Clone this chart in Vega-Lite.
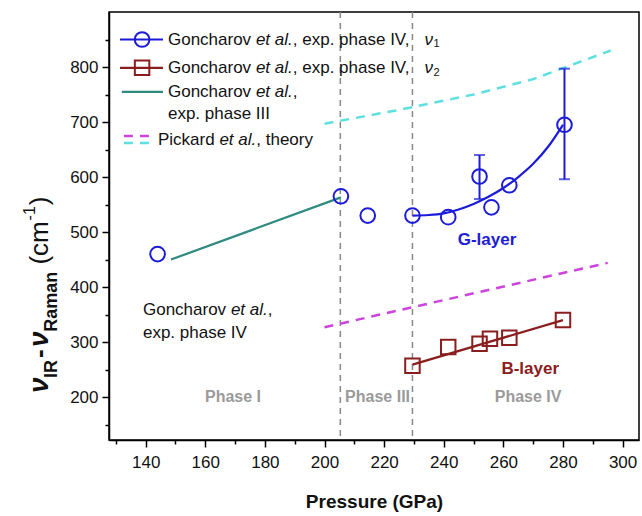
{
  "$schema": "https://vega.github.io/schema/vega-lite/v6.json",
  "width": 530,
  "height": 428,
  "autosize": "none",
  "padding": {"left": 109, "top": 12, "right": 3, "bottom": 76},
  "config": {
    "font": "Liberation Sans",
    "view": {"stroke": "#000", "strokeWidth": 1.5},
    "axis": {"grid": false, "domainColor": "#000", "domainWidth": 1.5, "tickColor": "#000", "tickWidth": 1.5, "labelColor": "#111", "labelFontSize": 17, "labelFont": "Liberation Sans", "titleFont": "Liberation Sans", "titleColor": "#111"}
  },
  "datasets": {
    "vlines": [{"x": 205.3}, {"x": 229.5}],
    "solid": [
      {"x": 229.5, "y": 530, "s": "fit"}, {"x": 235, "y": 531, "s": "fit"}, {"x": 240, "y": 534, "s": "fit"}, {"x": 245, "y": 541, "s": "fit"}, {"x": 250, "y": 551, "s": "fit"}, {"x": 255, "y": 564, "s": "fit"}, {"x": 260, "y": 580, "s": "fit"}, {"x": 265, "y": 600, "s": "fit"}, {"x": 270, "y": 624, "s": "fit"}, {"x": 275, "y": 655, "s": "fit"}, {"x": 280, "y": 695, "s": "fit"},
      {"x": 148.5, "y": 450, "s": "teal"}, {"x": 205.5, "y": 563, "s": "teal"},
      {"x": 229.5, "y": 259, "s": "brown"}, {"x": 280, "y": 340, "s": "brown"},
      {"x": 131.4, "y": 850, "s": "lb"}, {"x": 145.8, "y": 850, "s": "lb"},
      {"x": 131.4, "y": 798.5, "s": "lr"}, {"x": 145.8, "y": 798.5, "s": "lr"},
      {"x": 132.0, "y": 754.7, "s": "lt"}, {"x": 145.8, "y": 754.7, "s": "lt"}
    ],
    "dashed": [
      {"x": 200, "y": 327, "s": "mg"}, {"x": 295, "y": 444, "s": "mg"},
      {"x": 200, "y": 697, "s": "cy"}, {"x": 225, "y": 722, "s": "cy"}, {"x": 250, "y": 750, "s": "cy"}, {"x": 270, "y": 778, "s": "cy"}, {"x": 287, "y": 812, "s": "cy"}, {"x": 296, "y": 830, "s": "cy"},
      {"x": 132.7, "y": 674.5, "s": "lmg"}, {"x": 141.4, "y": 674.5, "s": "lmg"},
      {"x": 132.7, "y": 661.7, "s": "lcy"}, {"x": 141.4, "y": 661.7, "s": "lcy"}
    ],
    "err": [{"x": 252, "lo": 560, "hi": 640}, {"x": 280.5, "lo": 596, "hi": 797}],
    "caps": [{"x": 252, "y": 560}, {"x": 252, "y": 640}, {"x": 280.5, "y": 596}, {"x": 280.5, "y": 797}],
    "circles": [
      {"x": 144, "y": 460}, {"x": 205.5, "y": 565}, {"x": 214.5, "y": 530}, {"x": 229.5, "y": 530}, {"x": 241.5, "y": 527}, {"x": 252, "y": 601}, {"x": 256, "y": 545}, {"x": 262, "y": 585}, {"x": 280.5, "y": 695},
      {"x": 138.8, "y": 850}
    ],
    "squares": [
      {"x": 229.5, "y": 257}, {"x": 241.5, "y": 291}, {"x": 252, "y": 297}, {"x": 255.5, "y": 306}, {"x": 262, "y": 308}, {"x": 280, "y": 340},
      {"x": 138.8, "y": 798.5}
    ],
    "txt": [
      {"x": 147.48, "y": 850, "t": "Goncharov", "k": "n"},
      {"x": 176.98, "y": 850, "t": "et al.", "k": "i"},
      {"x": 189.36, "y": 850, "t": ", exp. phase IV,", "k": "n"},
      {"x": 233.5, "y": 850, "t": "ν", "k": "i"},
      {"x": 236.6, "y": 841, "t": "1", "k": "sub"},
      {"x": 147.48, "y": 798.5, "t": "Goncharov", "k": "n"},
      {"x": 176.98, "y": 798.5, "t": "et al.", "k": "i"},
      {"x": 189.36, "y": 798.5, "t": ", exp. phase IV,", "k": "n"},
      {"x": 233.5, "y": 798.5, "t": "ν", "k": "i"},
      {"x": 236.6, "y": 789.5, "t": "2", "k": "sub"},
      {"x": 147.48, "y": 754.7, "t": "Goncharov", "k": "n"},
      {"x": 176.98, "y": 754.7, "t": "et al.", "k": "i"},
      {"x": 189.36, "y": 754.7, "t": ",", "k": "n"},
      {"x": 147.48, "y": 714.6, "t": "exp. phase III", "k": "n"},
      {"x": 144.13, "y": 667, "t": "Pickard", "k": "n"},
      {"x": 164.73, "y": 667, "t": "et al.", "k": "i"},
      {"x": 177.11, "y": 667, "t": ", theory", "k": "n"},
      {"x": 139.09, "y": 358.8, "t": "Goncharov", "k": "n"},
      {"x": 168.59, "y": 358.8, "t": "et al.", "k": "i"},
      {"x": 180.97, "y": 358.8, "t": ",", "k": "n"},
      {"x": 139.09, "y": 316.8, "t": "exp. phase IV", "k": "n"},
      {"x": 254.5, "y": 484.7, "t": "G-layer", "k": "G"},
      {"x": 269, "y": 251, "t": "B-layer", "k": "B"},
      {"x": 169.3, "y": 200, "t": "Phase I", "k": "P"},
      {"x": 217.8, "y": 200, "t": "Phase III", "k": "P"},
      {"x": 268.3, "y": 200, "t": "Phase IV", "k": "P"},
      {"x": 104.5, "y": 207.3, "t": "ν", "k": "yv"},
      {"x": 108.6, "y": 234.7, "t": "IR", "k": "ysub"},
      {"x": 104.5, "y": 271.2, "t": "-", "k": "ydash"},
      {"x": 104.5, "y": 291.2, "t": "ν", "k": "yv"},
      {"x": 108.6, "y": 318.6, "t": "Raman", "k": "ysub"},
      {"x": 104.5, "y": 440.9, "t": "(cm", "k": "ypar"},
      {"x": 101.2, "y": 521.2, "t": "-1", "k": "ysup"},
      {"x": 104.5, "y": 548.5, "t": ")", "k": "ypar"}
    ]
  },
  "resolve": {"axis": {"x": "independent", "y": "independent"}},
  "layer": [
    {
      "layer": [
        {
          "data": {"name": "vlines"},
          "mark": {"type": "rule", "color": "#888", "strokeWidth": 1.5, "strokeDash": [6, 5]},
          "encoding": {
            "x": {"field": "x", "type": "quantitative", "scale": {"domain": [127.7, 305.5], "nice": false, "zero": false},
              "axis": {"orient": "bottom", "values": [140, 160, 180, 200, 220, 240, 260, 280, 300], "tickSize": 7, "labelPadding": 7, "title": "Pressure (GPa)", "titleFontSize": 19, "titleFontWeight": "bold", "titlePadding": 22}}
          }
        },
        {
          "data": {"name": "dashed"},
          "mark": {"type": "line", "strokeWidth": 2.5, "strokeDash": [9, 7]},
          "encoding": {
            "x": {"field": "x", "type": "quantitative", "scale": {"domain": [127.7, 305.5], "nice": false, "zero": false}},
            "y": {"field": "y", "type": "quantitative", "scale": {"domain": [122, 900], "nice": false, "zero": false},
              "axis": {"orient": "left", "values": [200, 300, 400, 500, 600, 700, 800], "tickSize": 7, "labelPadding": 4, "title": null}},
            "color": {"field": "s", "type": "nominal", "legend": null,
              "scale": {"domain": ["fit", "teal", "brown", "lb", "lr", "lt", "mg", "cy", "lmg", "lcy"], "range": ["#1c1cd8", "#2f8a80", "#8a1d1d", "#1c1cd8", "#8a1d1d", "#2f8a80", "#cc44dd", "#5ee0e0", "#cc44dd", "#5ee0e0"]}}
          }
        },
        {
          "data": {"name": "solid"},
          "mark": {"type": "line", "strokeWidth": 2.2, "interpolate": "monotone"},
          "encoding": {
            "x": {"field": "x", "type": "quantitative", "scale": {"domain": [127.7, 305.5], "nice": false, "zero": false}},
            "y": {"field": "y", "type": "quantitative", "scale": {"domain": [122, 900], "nice": false, "zero": false}},
            "color": {"field": "s", "type": "nominal", "legend": null,
              "scale": {"domain": ["fit", "teal", "brown", "lb", "lr", "lt", "mg", "cy", "lmg", "lcy"], "range": ["#1c1cd8", "#2f8a80", "#8a1d1d", "#1c1cd8", "#8a1d1d", "#2f8a80", "#cc44dd", "#5ee0e0", "#cc44dd", "#5ee0e0"]}}
          }
        },
        {
          "data": {"name": "err"},
          "mark": {"type": "rule", "color": "#1c1cd8", "strokeWidth": 2},
          "encoding": {
            "x": {"field": "x", "type": "quantitative", "scale": {"domain": [127.7, 305.5], "nice": false, "zero": false}},
            "y": {"field": "lo", "type": "quantitative", "scale": {"domain": [122, 900], "nice": false, "zero": false}},
            "y2": {"field": "hi"}
          }
        },
        {
          "data": {"name": "caps"},
          "mark": {"type": "tick", "orient": "horizontal", "color": "#1c1cd8", "size": 11, "thickness": 2},
          "encoding": {
            "x": {"field": "x", "type": "quantitative", "scale": {"domain": [127.7, 305.5], "nice": false, "zero": false}},
            "y": {"field": "y", "type": "quantitative", "scale": {"domain": [122, 900], "nice": false, "zero": false}}
          }
        },
        {
          "data": {"name": "circles"},
          "mark": {"type": "point", "shape": "circle", "filled": false, "color": "#1c1cd8", "size": 215, "strokeWidth": 2, "opacity": 1},
          "encoding": {
            "x": {"field": "x", "type": "quantitative", "scale": {"domain": [127.7, 305.5], "nice": false, "zero": false}},
            "y": {"field": "y", "type": "quantitative", "scale": {"domain": [122, 900], "nice": false, "zero": false}}
          }
        },
        {
          "data": {"name": "squares"},
          "mark": {"type": "point", "shape": "square", "filled": false, "color": "#8a1d1d", "size": 210, "strokeWidth": 2, "opacity": 1},
          "encoding": {
            "x": {"field": "x", "type": "quantitative", "scale": {"domain": [127.7, 305.5], "nice": false, "zero": false}},
            "y": {"field": "y", "type": "quantitative", "scale": {"domain": [122, 900], "nice": false, "zero": false}}
          }
        },
        {
          "data": {"name": "txt"},
          "transform": [{"filter": "datum.k === 'n'"}],
          "mark": {"type": "text", "align": "left", "baseline": "middle", "fontSize": 17, "color": "#111"},
          "encoding": {
            "x": {"field": "x", "type": "quantitative", "scale": {"domain": [127.7, 305.5], "nice": false, "zero": false}},
            "y": {"field": "y", "type": "quantitative", "scale": {"domain": [122, 900], "nice": false, "zero": false}},
            "text": {"field": "t"}
          }
        },
        {
          "data": {"name": "txt"},
          "transform": [{"filter": "datum.k === 'i'"}],
          "mark": {"type": "text", "align": "left", "baseline": "middle", "fontSize": 17, "fontStyle": "italic", "color": "#111"},
          "encoding": {
            "x": {"field": "x", "type": "quantitative", "scale": {"domain": [127.7, 305.5], "nice": false, "zero": false}},
            "y": {"field": "y", "type": "quantitative", "scale": {"domain": [122, 900], "nice": false, "zero": false}},
            "text": {"field": "t"}
          }
        },
        {
          "data": {"name": "txt"},
          "transform": [{"filter": "datum.k === 'sub'"}],
          "mark": {"type": "text", "align": "left", "baseline": "middle", "fontSize": 11, "color": "#111"},
          "encoding": {
            "x": {"field": "x", "type": "quantitative", "scale": {"domain": [127.7, 305.5], "nice": false, "zero": false}},
            "y": {"field": "y", "type": "quantitative", "scale": {"domain": [122, 900], "nice": false, "zero": false}},
            "text": {"field": "t"}
          }
        },
        {
          "data": {"name": "txt"},
          "transform": [{"filter": "datum.k === 'G'"}],
          "mark": {"type": "text", "align": "center", "baseline": "middle", "fontSize": 17, "fontWeight": "bold", "color": "#1c1cd8"},
          "encoding": {
            "x": {"field": "x", "type": "quantitative", "scale": {"domain": [127.7, 305.5], "nice": false, "zero": false}},
            "y": {"field": "y", "type": "quantitative", "scale": {"domain": [122, 900], "nice": false, "zero": false}},
            "text": {"field": "t"}
          }
        },
        {
          "data": {"name": "txt"},
          "transform": [{"filter": "datum.k === 'B'"}],
          "mark": {"type": "text", "align": "center", "baseline": "middle", "fontSize": 17, "fontWeight": "bold", "color": "#8a1d1d"},
          "encoding": {
            "x": {"field": "x", "type": "quantitative", "scale": {"domain": [127.7, 305.5], "nice": false, "zero": false}},
            "y": {"field": "y", "type": "quantitative", "scale": {"domain": [122, 900], "nice": false, "zero": false}},
            "text": {"field": "t"}
          }
        },
        {
          "data": {"name": "txt"},
          "transform": [{"filter": "datum.k === 'P'"}],
          "mark": {"type": "text", "align": "center", "baseline": "middle", "fontSize": 16, "fontWeight": "bold", "color": "#9a9a9a"},
          "encoding": {
            "x": {"field": "x", "type": "quantitative", "scale": {"domain": [127.7, 305.5], "nice": false, "zero": false}},
            "y": {"field": "y", "type": "quantitative", "scale": {"domain": [122, 900], "nice": false, "zero": false}},
            "text": {"field": "t"}
          }
        },
        {
          "data": {"name": "txt"},
          "transform": [{"filter": "datum.k === 'yv'"}],
          "mark": {"type": "text", "align": "left", "baseline": "middle", "angle": 270, "fontSize": 28, "fontWeight": "bold", "fontStyle": "italic", "color": "#111"},
          "encoding": {
            "x": {"field": "x", "type": "quantitative", "scale": {"domain": [127.7, 305.5], "nice": false, "zero": false}},
            "y": {"field": "y", "type": "quantitative", "scale": {"domain": [122, 900], "nice": false, "zero": false}},
            "text": {"field": "t"}
          }
        },
        {
          "data": {"name": "txt"},
          "transform": [{"filter": "datum.k === 'ysub'"}],
          "mark": {"type": "text", "align": "left", "baseline": "middle", "angle": 270, "fontSize": 18, "fontWeight": "bold", "color": "#111"},
          "encoding": {
            "x": {"field": "x", "type": "quantitative", "scale": {"domain": [127.7, 305.5], "nice": false, "zero": false}},
            "y": {"field": "y", "type": "quantitative", "scale": {"domain": [122, 900], "nice": false, "zero": false}},
            "text": {"field": "t"}
          }
        },
        {
          "data": {"name": "txt"},
          "transform": [{"filter": "datum.k === 'ydash'"}],
          "mark": {"type": "text", "align": "left", "baseline": "middle", "angle": 270, "fontSize": 26, "fontWeight": "bold", "color": "#111"},
          "encoding": {
            "x": {"field": "x", "type": "quantitative", "scale": {"domain": [127.7, 305.5], "nice": false, "zero": false}},
            "y": {"field": "y", "type": "quantitative", "scale": {"domain": [122, 900], "nice": false, "zero": false}},
            "text": {"field": "t"}
          }
        },
        {
          "data": {"name": "txt"},
          "transform": [{"filter": "datum.k === 'ypar'"}],
          "mark": {"type": "text", "align": "left", "baseline": "middle", "angle": 270, "fontSize": 26, "color": "#111"},
          "encoding": {
            "x": {"field": "x", "type": "quantitative", "scale": {"domain": [127.7, 305.5], "nice": false, "zero": false}},
            "y": {"field": "y", "type": "quantitative", "scale": {"domain": [122, 900], "nice": false, "zero": false}},
            "text": {"field": "t"}
          }
        },
        {
          "data": {"name": "txt"},
          "transform": [{"filter": "datum.k === 'ysup'"}],
          "mark": {"type": "text", "align": "left", "baseline": "middle", "angle": 270, "fontSize": 16, "color": "#111"},
          "encoding": {
            "x": {"field": "x", "type": "quantitative", "scale": {"domain": [127.7, 305.5], "nice": false, "zero": false}},
            "y": {"field": "y", "type": "quantitative", "scale": {"domain": [122, 900], "nice": false, "zero": false}},
            "text": {"field": "t"}
          }
        }
      ]
    },
    {
      "data": {"values": [{"x": 200, "y": 500}]},
      "mark": {"type": "point", "opacity": 0},
      "encoding": {
        "x": {"field": "x", "type": "quantitative", "title": null, "scale": {"domain": [127.7, 305.5], "nice": false, "zero": false},
          "axis": {"orient": "bottom", "values": [130, 150, 170, 190, 210, 230, 250, 270, 290], "labels": false, "tickSize": 4, "domain": false, "title": null}},
        "y": {"field": "y", "type": "quantitative", "title": null, "scale": {"domain": [122, 900], "nice": false, "zero": false},
          "axis": {"orient": "left", "values": [150, 250, 350, 450, 550, 650, 750, 850], "labels": false, "tickSize": 4, "domain": false, "title": null}}
      }
    }
  ]
}
